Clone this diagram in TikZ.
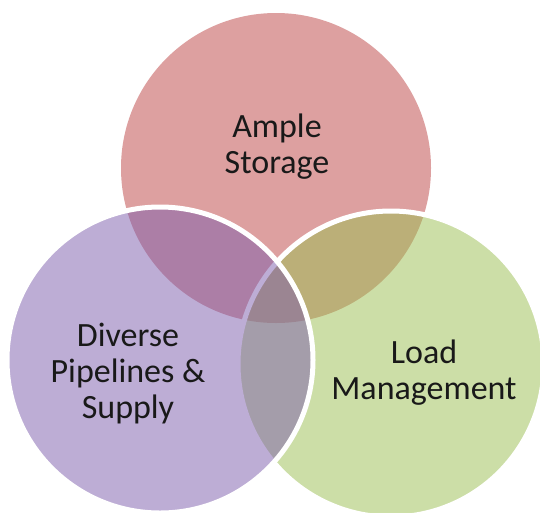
\documentclass[tikz,border=0pt]{standalone}
\usepackage{fontspec}
\setmainfont{Carlito}
\definecolor{redc}{RGB}{221,160,160}
\definecolor{greenc}{RGB}{155,191,81}
\definecolor{purplec}{RGB}{125,93,173}
\definecolor{txt}{RGB}{25,25,25}
\begin{document}
\begin{tikzpicture}[x=1pt,y=-1pt,
  ring/.style={draw=white,line width=5pt},
  lbl/.style={align=center,text=txt,font=\fontsize{34}{36}\selectfont}]
\useasboundingbox (0,0) rectangle (540,512);
\clip (0,0) rectangle (540,512);
\fill[white] (0,0) rectangle (540,512);
% top (red)
\fill[redc] (276,168) circle (155);
% right (green)
\path[ring,fill=greenc,fill opacity=0.5] (391,364) circle (153);
% left (purple)
\path[ring,fill=purplec,fill opacity=0.5] (160,360) circle (153);
\node[lbl] (a) at (277,147) {Ample\\Storage};
\node[lbl] (p) at (128,374) {Diverse\\Pipelines \&\\Supply};
\node[lbl] (l) at (424,373) {Load\\Management};
\end{tikzpicture}
\end{document}
